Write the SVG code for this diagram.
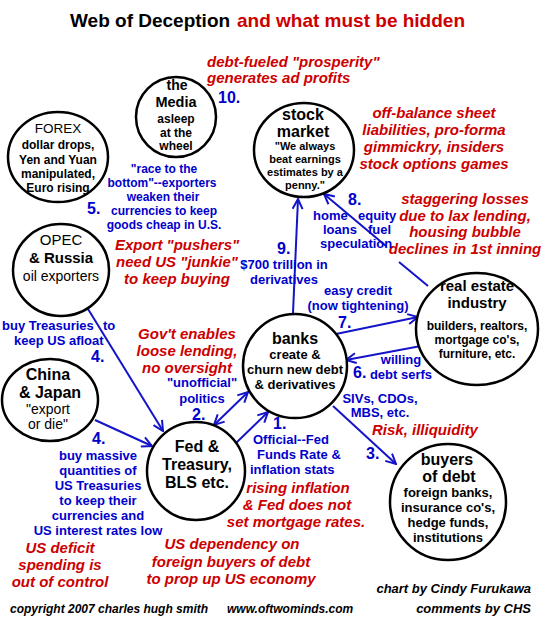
<svg xmlns="http://www.w3.org/2000/svg" width="550" height="640" viewBox="0 0 550 640">
<style>
text{font-family:"Liberation Sans",Arial,sans-serif}
.shape{fill:#fff;stroke:#000;stroke-width:2.5}
.nt{fill:#000;text-anchor:middle;font-weight:bold}
.nr{fill:#000;text-anchor:middle;font-weight:normal}
.blue{fill:#0000cc;font-weight:bold;font-size:13px}
.bm{text-anchor:middle}
.num{fill:#0000cc;font-weight:bold;font-size:16px}
.red{fill:#cc0000;font-weight:bold;font-style:italic;font-size:15px;text-anchor:middle}
.foot{fill:#000;font-weight:bold;font-style:italic}
.conn{stroke:#1414c8;stroke-width:2;fill:none}
</style>
<defs>
<marker id="ah" viewBox="0 0 12 12" refX="11" refY="6" markerWidth="12" markerHeight="12" markerUnits="userSpaceOnUse" orient="auto-start-reverse">
<path d="M1,1 L11,6 L1,11" fill="none" stroke="#1414c8" stroke-width="2"/>
</marker>
</defs>
<rect width="550" height="640" fill="#fff"/>

<text x="70" y="27" font-size="19" font-weight="bold" fill="#000">Web of Deception</text>
<text x="237" y="27" font-size="19" font-weight="bold" fill="#cc0000">and what must be hidden</text>

<g id="connectors">
<path class="conn" d="M88,309 L163,431" marker-end="url(#ah)"/>
<path class="conn" d="M95,420 L152,446" marker-end="url(#ah)"/>
<path class="conn" d="M214,425 L248,392" marker-start="url(#ah)" marker-end="url(#ah)"/>
<path class="conn" d="M236,443 L268,412" marker-end="url(#ah)"/>
<path class="conn" d="M333,406 L396,464" marker-end="url(#ah)"/>
<path class="conn" d="M336,334 L418,317" marker-end="url(#ah)"/>
<path class="conn" d="M421,346 L346,360" marker-end="url(#ah)"/>
<path class="conn" d="M293,313 L298,199" marker-end="url(#ah)"/>
<path class="conn" d="M428,286 L399,262 M386,246 L324,194" marker-end="url(#ah)"/>
</g>

<g id="media">
<circle class="shape" cx="176" cy="117" r="40"/>
<text class="nt" x="177" y="90" font-size="14">the</text>
<text class="nt" x="176" y="107" font-size="14.5">Media</text>
<text class="nt" x="176" y="123" font-size="12">asleep</text>
<text class="nt" x="176" y="137" font-size="12">at the</text>
<text class="nt" x="176" y="150" font-size="12">wheel</text>
</g>

<g id="forex">
<ellipse class="shape" cx="58" cy="157" rx="50" ry="45"/>
<text class="nr" x="58" y="133" font-size="13.5">FOREX</text>
<text class="nt" x="58" y="149" font-size="12">dollar drops,</text>
<text class="nt" x="58" y="164" font-size="12">Yen and Yuan</text>
<text class="nt" x="58" y="178" font-size="12">manipulated,</text>
<text class="nt" x="58" y="192" font-size="12">Euro rising</text>
</g>

<g id="stock">
<ellipse class="shape" cx="304" cy="150" rx="50" ry="47"/>
<text class="nt" x="303" y="120" font-size="16">stock</text>
<text class="nt" x="303" y="137" font-size="16">market</text>
<text class="nt" x="305" y="150" font-size="11">"We always</text>
<text class="nt" x="305" y="163" font-size="11">beat earnings</text>
<text class="nt" x="305" y="176" font-size="11">estimates by a</text>
<text class="nt" x="305" y="189" font-size="11">penny."</text>
</g>

<g id="opec">
<ellipse class="shape" cx="61" cy="270" rx="48" ry="46"/>
<text class="nr" x="61" y="245" font-size="15">OPEC</text>
<text class="nt" x="61" y="263" font-size="15">&amp; Russia</text>
<text class="nr" x="61" y="281" font-size="14">oil exporters</text>
</g>

<g id="china">
<ellipse class="shape" cx="50" cy="400" rx="48" ry="41"/>
<text class="nt" x="48" y="380" font-size="16">China</text>
<text class="nt" x="50" y="398" font-size="16">&amp; Japan</text>
<text class="nr" x="48" y="414" font-size="14">"export</text>
<text class="nr" x="48" y="429" font-size="14">or die"</text>
</g>

<g id="banks">
<circle class="shape" cx="295" cy="366" r="52"/>
<text class="nt" x="295" y="344" font-size="16">banks</text>
<text class="nt" x="295" y="359" font-size="13">create &amp;</text>
<text class="nt" x="295" y="374" font-size="13">churn new debt</text>
<text class="nt" x="295" y="389" font-size="13">&amp; derivatives</text>
</g>

<g id="realestate">
<ellipse class="shape" cx="477" cy="329" rx="61" ry="56"/>
<text class="nt" x="477" y="291" font-size="15">real estate</text>
<text class="nt" x="477" y="308" font-size="15">industry</text>
<text class="nt" x="477" y="330" font-size="12">builders, realtors,</text>
<text class="nt" x="477" y="344" font-size="12">mortgage co's,</text>
<text class="nt" x="477" y="358" font-size="12">furniture, etc.</text>
</g>

<g id="fed">
<circle class="shape" cx="196" cy="471" r="49"/>
<text class="nt" x="197" y="452" font-size="16">Fed &amp;</text>
<text class="nt" x="197" y="470" font-size="16">Treasury,</text>
<text class="nt" x="197" y="488" font-size="16">BLS etc.</text>
</g>

<g id="buyers">
<circle class="shape" cx="448" cy="502" r="58"/>
<text class="nt" x="447" y="465" font-size="16">buyers</text>
<text class="nt" x="449" y="482" font-size="16">of debt</text>
<text class="nt" x="448" y="497" font-size="13">foreign banks,</text>
<text class="nt" x="448" y="512" font-size="13">insurance co's,</text>
<text class="nt" x="448" y="527" font-size="13">hedge funds,</text>
<text class="nt" x="448" y="542" font-size="13">institutions</text>
</g>

<g id="red-comments">
<text class="red" x="207" y="67" style="text-anchor:start">debt-fueled "prosperity"</text>
<text class="red" x="207" y="83" style="text-anchor:start">generates  ad profits</text>
<text class="red" x="434" y="118">off-balance sheet</text>
<text class="red" x="434" y="135">liabilities, pro-forma</text>
<text class="red" x="434" y="152">gimmickry, insiders</text>
<text class="red" x="434" y="169">stock options games</text>
<text class="red" x="465" y="204">staggering losses</text>
<text class="red" x="465" y="221">due to lax lending,</text>
<text class="red" x="465" y="237">housing bubble</text>
<text class="red" x="465" y="254">declines in 1st inning</text>
<text class="red" x="177" y="250">Export "pushers"</text>
<text class="red" x="177" y="267">need US "junkie"</text>
<text class="red" x="177" y="284">to keep buying</text>
<text class="red" x="187" y="339">Gov't enables</text>
<text class="red" x="187" y="356">loose lending,</text>
<text class="red" x="187" y="373">no oversight</text>
<text class="red" x="372" y="435" style="text-anchor:start">Risk, illiquidity</text>
<text class="red" x="298" y="493">rising inflation</text>
<text class="red" x="297" y="510">&amp; Fed does not</text>
<text class="red" x="296" y="527">set mortgage rates.</text>
<text class="red" x="60" y="553">US deficit</text>
<text class="red" x="60" y="570">spending is</text>
<text class="red" x="60" y="587">out of control</text>
<text class="red" x="232" y="549">US dependency on</text>
<text class="red" x="231" y="567">foreign buyers of debt</text>
<text class="red" x="231" y="584">to prop up US economy</text>
</g>

<g id="blue-labels">
<text class="num" x="218" y="103">10.</text>
<text class="blue bm" x="164" y="173" style="font-size:12px">"race to the</text>
<text class="blue bm" x="162" y="187" style="font-size:12px">bottom"--exporters</text>
<text class="blue bm" x="163" y="201" style="font-size:12px">weaken their</text>
<text class="blue bm" x="164" y="215" style="font-size:12px">currencies to keep</text>
<text class="blue bm" x="164" y="229" style="font-size:12px">goods cheap in U.S.</text>
<text class="num" x="87" y="214">5.</text>
<text class="blue" x="2" y="330">buy Treasuries</text>
<text class="blue" x="103" y="330">to</text>
<text class="blue" x="14" y="345">keep US afloat</text>
<text class="num" x="91" y="362">4.</text>
<text class="num" x="92" y="444">4.</text>
<text class="blue bm" x="98" y="460">buy massive</text>
<text class="blue bm" x="98" y="475">quantities of</text>
<text class="blue bm" x="98" y="490">US Treasuries</text>
<text class="blue bm" x="98" y="505">to keep their</text>
<text class="blue bm" x="98" y="520">currencies and</text>
<text class="blue bm" x="98" y="535">US interest rates low</text>
<text class="blue bm" x="202" y="387">"unofficial"</text>
<text class="blue bm" x="202" y="403">politics</text>
<text class="num" x="192" y="420">2.</text>
<text class="num" x="273" y="429">1.</text>
<text class="blue" x="253" y="444">Official--Fed</text>
<text class="blue" x="257" y="459">Funds Rate &amp;</text>
<text class="blue" x="250" y="474">inflation stats</text>
<text class="num" x="366" y="459">3.</text>
<text class="blue bm" x="380" y="403">SIVs, CDOs,</text>
<text class="blue bm" x="380" y="417">MBS, etc.</text>
<text class="blue bm" x="401" y="364">willing</text>
<text class="blue bm" x="401" y="379">debt serfs</text>
<text class="num" x="353" y="378">6.</text>
<text class="blue bm" x="358" y="295">easy credit</text>
<text class="blue bm" x="358" y="310">(now tightening)</text>
<text class="num" x="338" y="328">7.</text>
<text class="num" x="277" y="254">9.</text>
<text class="blue bm" x="284" y="269">$700 trillion in</text>
<text class="blue bm" x="284" y="284">derivatives</text>
<text class="num" x="348" y="205">8.</text>
<text class="blue" x="313" y="220">home</text>
<text class="blue" x="358" y="220">equity</text>
<text class="blue" x="323" y="234">loans</text>
<text class="blue" x="368" y="234">fuel</text>
<text class="blue" x="320" y="248">speculation</text>
</g>

<g id="footer">
<text class="foot" x="10" y="613" font-size="12">copyright 2007 charles hugh smith</text>
<text class="foot" x="227" y="613" font-size="12">www.oftwominds.com</text>
<text class="foot" x="531" y="593" font-size="13" text-anchor="end">chart by Cindy Furukawa</text>
<text class="foot" x="531" y="613" font-size="13" text-anchor="end">comments by CHS</text>
</g>
</svg>
